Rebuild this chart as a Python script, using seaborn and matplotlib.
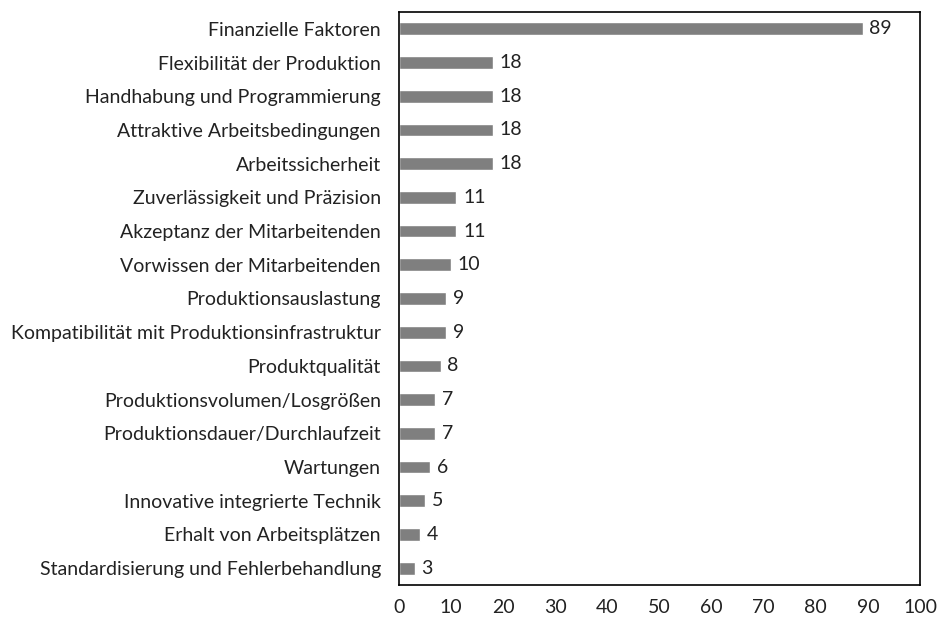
import matplotlib
matplotlib.use('Agg')
import matplotlib.pyplot as plt
import seaborn as sns
import pandas as pd

categories = ['Finanzielle Faktoren', 'Flexibilität der Produktion', 'Handhabung und Programmierung',
              'Attraktive Arbeitsbedingungen', 'Arbeitssicherheit', 'Zuverlässigkeit und Präzision',
              'Akzeptanz der Mitarbeitenden', 'Vorwissen der Mitarbeitenden', 'Produktionsauslastung',
              'Kompatibilität mit Produktionsinfrastruktur', 'Produktqualität',
              'Produktionsvolumen/Losgrößen', 'Produktionsdauer/Durchlaufzeit', 'Wartungen',
              'Innovative integrierte Technik', 'Erhalt von Arbeitsplätzen',
              'Standardisierung und Fehlerbehandlung']
counts = [89, 18, 18, 18, 18, 11, 11, 10, 9, 9, 8, 7, 7, 6, 5, 4, 3]
x_ticks = [0, 10, 20, 30, 40, 50, 60, 70, 80, 90, 100]

df = pd.DataFrame({'Faktor': categories, 'Anzahl': counts})

sns.set_style('white')
plt.rcParams['font.family'] = ['Lato', 'DejaVu Sans']

fig = plt.figure(figsize=(9.43, 6.18), dpi=100)
ax = fig.add_axes([0.423, 0.0534, 0.5526, 0.9272])
sns.barplot(data=df, x='Anzahl', y='Faktor', color='#7f7f7f', saturation=1, width=0.38, ax=ax)

for i, v in enumerate(counts):
    ax.text(v + 1.3, i, str(v), va='center', ha='left', fontsize=14, color='#222222')

ax.set_xlim(0, 100)
ax.set_xticks(x_ticks)
ax.set_xlabel('')
ax.set_ylabel('')
ax.tick_params(axis='both', length=0, labelsize=14, colors='#222222')
ax.tick_params(axis='x', pad=10)
ax.tick_params(axis='y', pad=13)
for s in ax.spines.values():
    s.set_visible(True)
    s.set_color('black')
    s.set_linewidth(1.2)

fig.savefig('out.png', dpi=100)
